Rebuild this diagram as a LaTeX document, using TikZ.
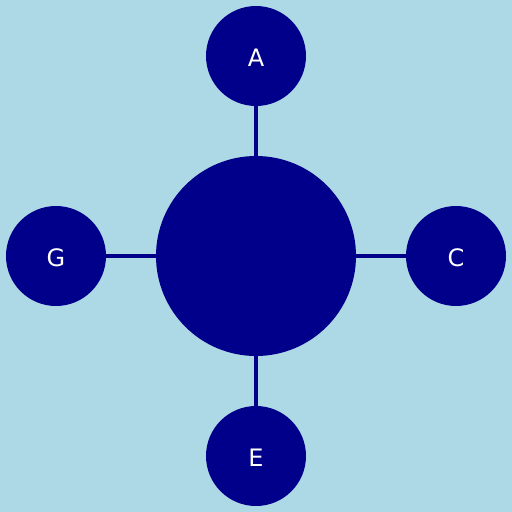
\documentclass[tikz,border=0pt]{standalone}
\usepackage{fontspec}
\setmainfont{DejaVu Sans}
\usepackage{xcolor}
\usepackage{tikz}
\definecolor{C0}{HTML}{ADD8E6}
\definecolor{C1}{HTML}{00008B}

\begin{document}
\begin{tikzpicture}[x=1pt,y=1pt]
\tikzstyle{hub}=[fill=C1,shape=circle,inner sep=0pt,minimum size=200pt]
\tikzstyle{leaf}=[fill=C1,shape=circle,inner sep=0pt,minimum size=100pt,text=white,text height=21.5pt,font=\fontsize{24}{28}\selectfont]
\tikzstyle{spoke}=[draw=C1,line width=4.5pt]

\fill[C0] (-256,-256) rectangle (256,256);
\useasboundingbox (-256,-256) rectangle (256,256);
%
\node[hub](hub) at (0,0){};
\node[leaf](a) at (0,200){A};
\node[leaf](c) at (200,0){C};
\node[leaf](e) at (0,-200){E};
\node[leaf](g) at (-200,0){G};
%
\draw[spoke] (hub) -- (a);
\draw[spoke] (hub) -- (c);
\draw[spoke] (hub) -- (e);
\draw[spoke] (hub) -- (g);
\end{tikzpicture}
\end{document}
